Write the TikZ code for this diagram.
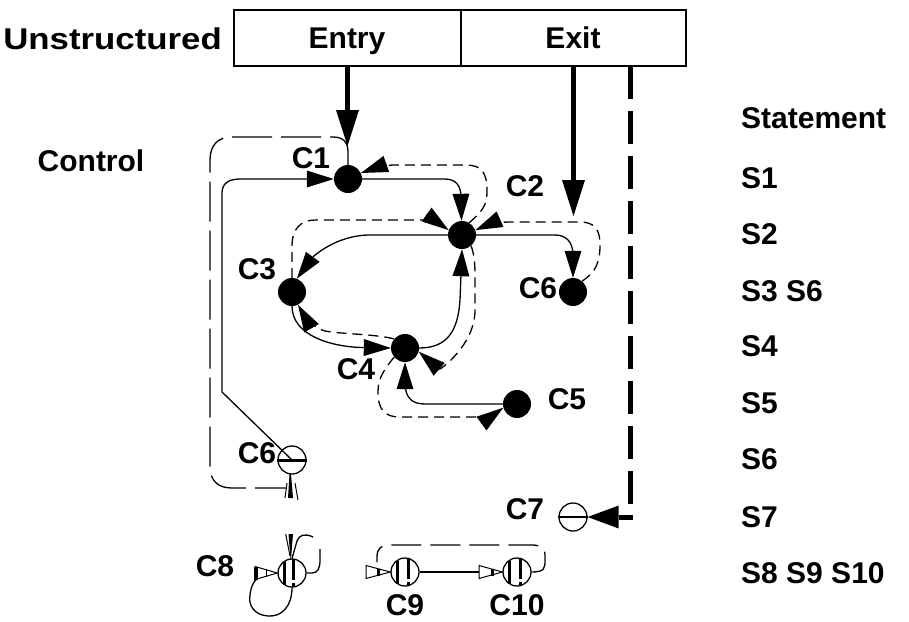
\documentclass[tikz,border=0pt]{standalone}
\usepackage{fontspec}
\setmainfont{Liberation Sans}
\usetikzlibrary{arrows.meta}
\begin{document}
\begin{tikzpicture}[x=1pt,y=-1pt,
  lbl/.style={font=\bfseries\fontsize{30}{36}\selectfont, inner sep=0pt, anchor=base},
  lbll/.style={lbl, anchor=base west},
  dot/.style={circle, fill=black, minimum size=28pt, inner sep=0pt},
  hol/.style={circle, draw=black, line width=1.3pt, minimum size=28pt, inner sep=0pt},
  edge/.style={line width=1.3pt},
  arr/.style={-{Triangle[length=27pt,width=17pt,line width=0pt]}},
  sdash/.style={edge, dash pattern=on 10pt off 6pt},
  ldash/.style={edge, dash pattern=on 40pt off 9pt},
  bigarr/.style={line width=4.5pt, -{Triangle[length=36pt,width=23pt,line width=0pt]}},
]
\useasboundingbox (0,0) rectangle (909,621);

% header boxes
\node[draw, line width=1.3pt, minimum width=227pt, minimum height=56pt, inner sep=0pt] (entrybox) at (347.5,38) {};
\node[draw, line width=1.3pt, minimum width=225pt, minimum height=56pt, inner sep=0pt] (exitbox) at (573.5,38) {};
\node[lbl] (tentry) at (347,48) {Entry};
\node[lbl] (texit) at (573,48) {Exit};
\node[lbl, anchor=base east] (tunstr) at (222,49) {\scalebox{1.16}[1]{Unstructured}};
\node[lbl] (tcontrol) at (91,171) {Control};
\node[lbll] (tstmt) at (741,128) {Statement};
\node[lbll] (s1) at (741,188) {S1};
\node[lbll] (s2) at (741,244) {S2};
\node[lbll] (s3) at (741,301) {S3 S6};
\node[lbll] (s4) at (741,356) {S4};
\node[lbll] (s5) at (741,413) {S5};
\node[lbll] (s6) at (741,469) {S6};
\node[lbll] (s7) at (741,527) {S7};
\node[lbll] (s8) at (741,583) {S8 S9 S10};

% nodes
\node[dot] (c1) at (348,179) {};
\node[dot] (c2) at (462,235) {};
\node[dot] (c3) at (292,292) {};
\node[dot] (c4) at (405,348) {};
\node[dot] (c5) at (517,404) {};
\node[dot] (c6r) at (573,292) {};
\node[hol] (c6l) at (292,460) {};
\node[hol] (c7) at (573,517) {};
\node[hol] (c8) at (292,573) {};
\node[hol] (c9) at (405,572) {};
\node[hol] (c10) at (517,572) {};

% labels
\node[lbl] (l1) at (311,168) {C1};
\node[lbl] (l2) at (525,196) {C2};
\node[lbl] (l3) at (257,279) {C3};
\node[lbl] (l4) at (356,379) {C4};
\node[lbl] (l5) at (567,409) {C5};
\node[lbl] (l6r) at (538,298) {C6};
\node[lbl] (l6l) at (257,463) {C6};
\node[lbl] (l7) at (525,519) {C7};
\node[lbl] (l8) at (215,576) {C8};
\node[lbl] (l9) at (405,615) {C9};
\node[lbl] (l10) at (517,615) {C10};

% bars in hollow nodes
\draw[line width=3pt] (c6l.west) -- (c6l.east);
\draw[line width=2.5pt] (c7.west) -- (c7.east);
\foreach \n/\a in {c8/-8,c9/-7.5,c10/-7.5}{
  \draw[line width=3pt] ([shift={(\a,-11.5)}]\n.center) -- ([shift={(\a,11.5)}]\n.center);
}
\foreach \n/\a in {c8/1.5,c9/3,c10/3}{
  \draw[line width=3pt] ([shift={(\a,-13.9)}]\n.center) -- ([shift={(\a,7)}]\n.center);
  \draw[line width=3pt] ([shift={(\a,9.5)}]\n.center) -- ([shift={(\a,13.6)}]\n.center);
}

% entry / exit arrows
\coordinate (entrytip) at (347.5,146);
\coordinate (exittip) at (573.5,216);
\draw[bigarr] (entrybox.south) -- (entrytip);
\draw[bigarr] (exitbox.south) -- (exittip);
\coordinate (exitd) at (630,66);
\coordinate (exitc) at (630,509);
\coordinate (exith) at (632.5,517);
\draw[line width=5pt, dash pattern=on 33pt off 12pt] (exitd) -- (exitc);
\draw[line width=5pt, -{Triangle[length=31pt,width=23pt,line width=0pt]}] (exith) -- (c7.east);

% solid control edges
\draw[edge,arr] (c6l.center) -- (222,392) -- (222,193) .. controls (222,184) and (228,179) .. (240,179) -- (c1.west);
\draw[edge,arr] (c1.east) -- (445,179) .. controls (456,179) and (461,186) .. (461,197) -- (c2.92);
\draw[edge,arr] (c2.west) -- (370,235) .. controls (335,235) and (312,258) .. (c3.70);
\draw[edge,arr] (c3.south) .. controls (292,335) and (330,347) .. (c4.west);
\draw[edge,arr] (c4.east) .. controls (448,348) and (458,330) .. (460,300) -- (c2.south);
\draw[edge,arr] (c5.west) -- (425,404) .. controls (412,404) and (406,398) .. (405,385) -- (c4.south);
\draw[edge,arr] (c2.east) -- (555,235) .. controls (566,235) and (573,242) .. (573,255) -- (c6r.north);

% dashed reverse edges
\draw[sdash,arr] (c2.60) .. controls (482,212) and (487,205) .. (487,192) .. controls (487,172) and (482,165) .. (465,165) -- (395,165) .. controls (385,165) and (375,168) .. (c1.25);
\draw[sdash,arr] (c6r.50) .. controls (596,272) and (600,262) .. (600,245) .. controls (600,230) and (595,222) .. (580,222) -- (510,222) .. controls (497,222) and (487,225) .. (c2.20);
\draw[sdash,arr] (c3.north) -- (292,245) .. controls (292,230) and (300,220) .. (315,220) -- (422,220) .. controls (432,220) and (440,224) .. (c2.160);
\draw[sdash,arr] (c4.140) .. controls (375,334) and (340,334) .. (325,331) .. controls (316,329) and (305,317) .. (c3.-65);
\draw[sdash,arr] (c2.-50) .. controls (474,254) and (475,262) .. (475,275) -- (475,310) .. controls (475,345) and (440,370) .. (c4.-15);
\draw[sdash,arr] (c4.-140) .. controls (382,372) and (378,380) .. (378,392) .. controls (378,410) and (385,417) .. (400,417) -- (478,417) .. controls (488,417) and (496,413) .. (c5.195);

% long dashed loop
\draw[ldash] (c1.north) -- (348,152) .. controls (348,142) and (343,137) .. (333,137) -- (232,137) .. controls (218,137) and (210,145) .. (210,160) -- (210,466) .. controls (210,481) and (218,488) .. (232,488) -- (287,488);

% wedges between C6 and C8
\fill (289.5,474) -- (291,474) -- (293,498) -- (288,498) -- cycle;
\draw[line width=1pt] (287,483) -- (285,498);
\draw[line width=1pt] (295,483) -- (298,500);
\fill (288.5,534) -- (293,534) -- (291,559) -- (290.5,559) -- cycle;
\draw[line width=1pt] (285.7,534) -- (290,556);

% C8 loops and open arrow
\draw[edge] (c8.south) .. controls (292,606) and (282,617) .. (268,616) .. controls (254,615) and (248,605) .. (250,595) .. controls (251,586) and (254,581) .. (257,579);
\draw[line width=1pt, line join=miter] (255,566.5) -- (c8.west) -- (255,579.5) -- cycle;
\draw[line width=3.5pt] (256,566.5) -- (256,579.5);
\draw[line width=1pt] (266,569) -- (266,577);
\draw[edge] (c8.east) -- (312,573) .. controls (318,573) and (320,568) .. (320,560) -- (320,549);
\draw[edge] (c8.north) -- (297,541) .. controls (299,535) and (305,533) .. (313,537);

% C9, C10
\draw[edge] (c9.east) -- (479,572);
\draw[line width=1pt, line join=miter] (366,565.5) -- (c9.west) -- (366,578.5) -- cycle;
\draw[line width=3pt] (378,568.5) -- (378,575.5);
\draw[line width=1pt, line join=miter] (479,565.5) -- (c10.west) -- (479,578.5) -- cycle;
\draw[line width=3pt] (492,568.5) -- (492,575.5);
\draw[edge, dash pattern=on 30pt off 9pt] (c10.east) .. controls (545,572) and (545,568) .. (545,560) -- (545,555) .. controls (545,548) and (540,545) .. (532,545) -- (390,545) .. controls (380,545) and (377,550) .. (377,556) -- (377,562);
\end{tikzpicture}
\end{document}
